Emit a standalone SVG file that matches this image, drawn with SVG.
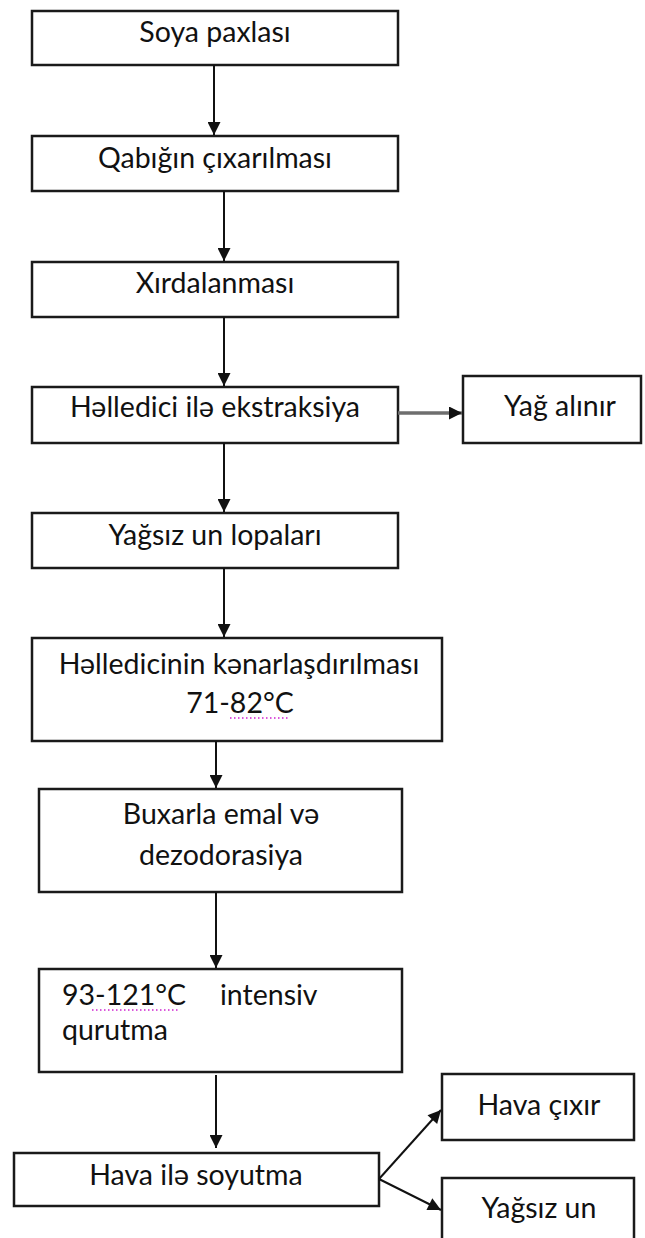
<svg xmlns="http://www.w3.org/2000/svg" width="645" height="1238" viewBox="0 0 645 1238">
<style>
rect.box{fill:#fff;stroke:#1a1a1a;stroke-width:2.5}
text{font-family:Lato,"Open Sans","Liberation Sans",sans-serif;font-size:28.5px;fill:#111}
.c{text-anchor:middle}
.ln{stroke:#111;stroke-width:2;fill:none}
.sp{stroke:#d020d0;stroke-width:1.3;stroke-dasharray:1.5,2.5}
</style>
<defs>
<marker id="ahb" viewBox="0 0 10 10" refX="10" refY="5" markerWidth="15" markerHeight="13" markerUnits="userSpaceOnUse" orient="auto">
<path d="M0,0 L10,5 L0,10 z" fill="#111"/>
</marker>
</defs>
<rect width="645" height="1238" fill="#fff"/>
<g id="n1"><rect class="box" x="32" y="11" width="366" height="54"/><text class="c" x="215" y="42">Soya paxlası</text></g>
<g id="n2"><rect class="box" x="32" y="136" width="366" height="55"/><text class="c" x="215" y="168">Qabığın çıxarılması</text></g>
<g id="n3"><rect class="box" x="32" y="262" width="366" height="55"/><text class="c" x="215" y="293">Xırdalanması</text></g>
<g id="n4"><rect class="box" x="32" y="387" width="366" height="56"/><text class="c" x="215" y="417">Həlledici ilə ekstraksiya</text></g>
<g id="n5"><rect class="box" x="463" y="376" width="178" height="67"/><text class="c" x="560" y="416">Yağ alınır</text></g>
<g id="n6"><rect class="box" x="32" y="513" width="366" height="55"/><text class="c" x="215" y="545">Yağsız un lopaları</text></g>
<g id="n7"><rect class="box" x="32" y="638" width="410" height="103"/><text class="c" x="239" y="674">Həlledicinin kənarlaşdırılması</text><text class="c" x="240" y="713">71-82°C</text><path class="sp" d="M230,718 H290"/></g>
<g id="n8"><rect class="box" x="39" y="789" width="363" height="103"/><text class="c" x="221" y="824">Buxarla emal və</text><text class="c" x="221" y="865">dezodorasiya</text></g>
<g id="n9"><rect class="box" x="39" y="969" width="363" height="103"/><text x="62" y="1005">93-121°C</text><text x="220" y="1005">intensiv</text><path class="sp" d="M92,1010 H178"/><text x="62" y="1040">qurutma</text></g>
<g id="n10"><rect class="box" x="14" y="1153" width="365" height="53"/><text class="c" x="196" y="1185">Hava ilə soyutma</text></g>
<g id="n11"><rect class="box" x="442" y="1074" width="192" height="66"/><text class="c" x="539" y="1115">Hava çıxır</text></g>
<g id="n12"><rect class="box" x="442" y="1178" width="192" height="70"/><text class="c" x="539" y="1218">Yağsız un</text></g>
<g id="connectors">
<line class="ln" x1="214" y1="65" x2="214" y2="135" marker-end="url(#ahb)"/>
<line class="ln" x1="224" y1="191" x2="224" y2="261" marker-end="url(#ahb)"/>
<line class="ln" x1="224" y1="317" x2="224" y2="386" marker-end="url(#ahb)"/>
<line x1="398" y1="413" x2="462" y2="413" stroke="#6e6e6e" stroke-width="3.5" marker-end="url(#ahb)"/>
<line class="ln" x1="224" y1="443" x2="224" y2="512" marker-end="url(#ahb)"/>
<line class="ln" x1="224" y1="568" x2="224" y2="637" marker-end="url(#ahb)"/>
<line class="ln" x1="216" y1="741" x2="216" y2="788" marker-end="url(#ahb)"/>
<line class="ln" x1="216" y1="892" x2="216" y2="968" marker-end="url(#ahb)"/>
<line class="ln" x1="216" y1="1075" x2="216" y2="1148" marker-end="url(#ahb)"/>
<line class="ln" x1="379" y1="1179" x2="441" y2="1110" marker-end="url(#ahb)"/>
<line class="ln" x1="379" y1="1179" x2="441" y2="1210" marker-end="url(#ahb)"/>
</g>
</svg>
